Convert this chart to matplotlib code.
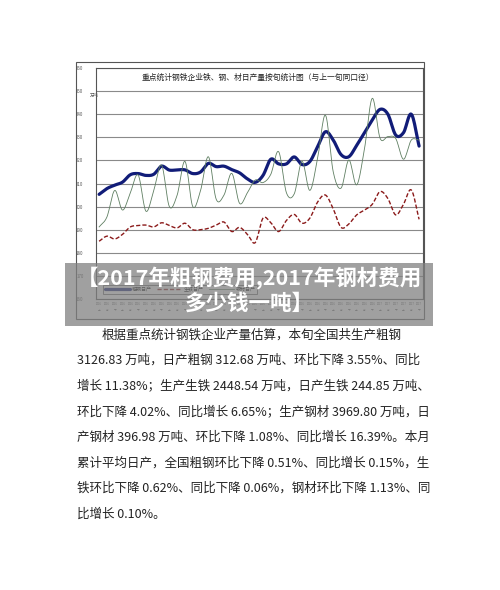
import numpy as np
import matplotlib
matplotlib.use("Agg")
import matplotlib.pyplot as plt
from matplotlib.patches import Rectangle

plt.rcParams['font.family'] = ['Noto Sans CJK SC', 'DejaVu Sans']

# --- data (one value per 旬) ---
years = ['2016'] * 36 + ['2017'] * 6
dekads = ['上', '中', '下'] * 14
tick_labels = [f"{y}\n{d}" for y, d in zip(years, dekads)]

crude_steel = [205.3, 207.8, 209.3, 210.6, 213.8, 214.3, 213.5, 214.0, 217.5, 215.8,
               215.9, 215.9, 214.3, 215.0, 218.7, 217.3, 217.5, 216.0, 214.6, 212.0,
               210.5, 213.5, 220.5, 218.5, 218.5, 221.5, 218.2, 219.5, 226.0, 232.4,
               228.8, 222.5, 221.6, 226.5, 232.0, 237.5, 242.1, 240.0, 231.0, 232.0,
               240.0, 226.2]
pig_iron = [185.0, 187.2, 186.0, 188.0, 191.2, 191.8, 192.0, 191.2, 193.0, 191.8,
            190.8, 192.8, 190.0, 190.0, 190.6, 192.0, 193.3, 189.2, 191.0, 188.0,
            184.4, 195.0, 193.0, 189.2, 194.0, 196.6, 192.8, 195.0, 202.0, 205.0,
            199.0, 191.0, 192.5, 196.4, 198.5, 201.0, 206.5, 203.5, 196.4, 201.0,
            207.2, 194.5]
steel_products = [191.2, 195.5, 207.0, 198.5, 206.0, 213.7, 198.0, 207.0, 218.0, 200.0,
                  205.0, 219.6, 200.0, 207.0, 221.6, 203.2, 205.0, 214.4, 201.4, 206.0,
                  211.5, 210.4, 214.0, 223.8, 206.0, 205.5, 219.6, 207.0, 221.0, 239.6,
                  215.0, 208.0, 220.2, 209.4, 225.0, 246.9, 229.6, 230.3, 229.5, 220.5,
                  228.8, 228.8]
y_ticks = list(range(160, 261, 10))
series_names = ['粗钢日产', '生铁日产', '钢材日产']

chart_title = '重点统计钢铁企业铁、钢、材日产量按旬统计图（与上一旬同口径）'
banner_lines = ['【2017年粗钢费用,2017年钢材费用', '多少钱一吨】']
body_lines = [
    '根据重点统计钢铁企业产量估算，本旬全国共生产粗钢',
    '3126.83 万吨，日产粗钢 312.68 万吨、环比下降 3.55%、同比',
    '增长 11.38%；生产生铁 2448.54 万吨，日产生铁 244.85 万吨、',
    '环比下降 4.02%、同比增长 6.65%；生产钢材 3969.80 万吨，日',
    '产钢材 396.98 万吨、环比下降 1.08%、同比增长 16.39%。本月',
    '累计平均日产，全国粗钢环比下降 0.51%、同比增长 0.15%，生',
    '铁环比下降 0.62%、同比下降 0.06%，钢材环比下降 1.13%、同',
    '比增长 0.10%。',
]


def smooth(y, steps=12):
    # Catmull-Rom, roughly what Excel does for "smoothed line"
    y = np.asarray(y, dtype=float)
    x = np.arange(len(y), dtype=float)
    p = np.concatenate([[2 * y[0] - y[1]], y, [2 * y[-1] - y[-2]]])
    xs, ys = [], []
    t = np.linspace(0, 1, steps, endpoint=False)
    for i in range(len(y) - 1):
        p0, p1, p2, p3 = p[i], p[i + 1], p[i + 2], p[i + 3]
        seg = 0.5 * (2 * p1 + (-p0 + p2) * t + (2 * p0 - 5 * p1 + 4 * p2 - p3) * t ** 2
                     + (-p0 + 3 * p1 - 3 * p2 + p3) * t ** 3)
        xs.append(x[i] + t)
        ys.append(seg)
    xs.append([x[-1]])
    ys.append([y[-1]])
    return np.concatenate(xs), np.concatenate(ys)


W, H = 500, 590
fig = plt.figure(figsize=(W / 100, H / 100), dpi=100)
fig.patch.set_facecolor('white')


def px(x0, y0, x1, y1):
    return [x0 / W, 1 - y1 / H, (x1 - x0) / W, (y1 - y0) / H]


# outer chart frame
fig.patches.append(Rectangle((76 / W, 1 - 319 / H), (424 - 76) / W, (319 - 62) / H,
                             transform=fig.transFigure, fill=False,
                             edgecolor='#555555', linewidth=0.8))

ax = fig.add_axes(px(96, 68, 423, 299))
n = len(crude_steel)
ax.set_xlim(-0.4, n - 0.5)
ax.set_ylim(160, 260)
ax.set_yticks(y_ticks)
ax.set_yticklabels([str(v) for v in y_ticks], fontsize=3.2, color='#555555')
ax.set_xticks(range(n))
ax.set_xticklabels(tick_labels, fontsize=1.9, color='#555555', linespacing=1.8)
ax.tick_params(axis='y', length=0, pad=9)
ax.tick_params(axis='x', length=0, pad=2)
ax.grid(axis='y', color='#8a8a8a', linewidth=0.8)
ax.set_axisbelow(True)
for s in ax.spines.values():
    s.set_color('#555555')
    s.set_linewidth(0.8)

xs, ys = smooth(crude_steel)
ax.plot(xs, ys, color='#111c78', linewidth=2.3, label=series_names[0], solid_capstyle='round')
xs, ys = smooth(pig_iron)
ax.plot(xs, ys, color='#8b1a1a', linewidth=1.0, linestyle=(0, (3, 1.5)), label=series_names[1])
xs, ys = smooth(steel_products)
ax.plot(xs, ys, color='#5f7f62', linewidth=0.6, label=series_names[2])

ax.text(0.494, 0.957, chart_title, transform=ax.transAxes, ha='center', va='center',
        fontsize=5.6, color='#222222')
fig.text(94 / W, 1 - 95 / H, '万吨', fontsize=3.2, color='#555555', ha='center', va='center')

leg = ax.legend(loc='lower left', bbox_to_anchor=(0.015, 0.012), ncol=3, fontsize=3.6,
                frameon=True, fancybox=False, edgecolor='#333333', handlelength=5,
                borderpad=0.3, columnspacing=1.0, handletextpad=0.4)
leg.get_frame().set_linewidth(0.6)

# title banner laid over the chart
fig.patches.append(Rectangle((65 / W, 1 - 326 / H), (433 - 65) / W, (326 - 263) / H,
                             transform=fig.transFigure, facecolor=(0.5, 0.5, 0.5),
                             alpha=0.75, edgecolor='none', zorder=5))
for txt, yy in zip(banner_lines, [278, 303]):
    fig.text(249 / W, 1 - yy / H, txt, ha='center', va='center', color='white',
             fontsize=15.5, fontweight='bold', zorder=6)

# body text
for i, line in enumerate(body_lines):
    x0 = 102 if i == 0 else 77
    fig.text(x0 / W, 1 - (335 + 25.6 * i) / H, line, ha='left', va='center',
             fontsize=9, color='#222222')

fig.savefig('out.png', dpi=100)
